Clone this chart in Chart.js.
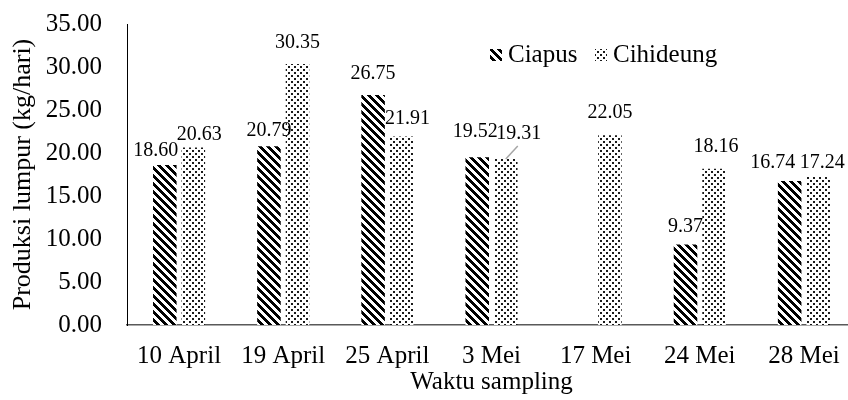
<!DOCTYPE html>
<html>
<head>
<meta charset="utf-8">
<script src="https://cdn.jsdelivr.net/npm/chart.js@4/dist/chart.umd.min.js"></script>
<style>
  html, body { margin: 0; padding: 0; background: #fff; overflow: hidden; }
  #wrap { width: 848px; height: 400px; overflow: hidden; }
  #c { display: block; }
</style>
</head>
<body>
<div id="wrap"><canvas id="c" width="856" height="400"></canvas></div>
<script>
// Sludge production per sampling date (kg/day)
const categories = ['10 April', '19 April', '25 April', '3 Mei', '17 Mei', '24 Mei', '28 Mei'];
const ciapus     = [18.60, 20.79, 26.75, 19.52, null, 9.37, 16.74];
const cihideung  = [20.63, 30.35, 21.91, 19.31, 22.05, 18.16, 17.24];
const seriesNames = ['Ciapus', 'Cihideung'];
const yMin = 0, yMax = 35, yStep = 5;

const SERIF = "'Liberation Serif', 'Times New Roman', serif";

// Diagonal hatch ("\" stripes)
function stripePattern() {
  const n = 8;
  const cv = document.createElement('canvas');
  cv.width = n; cv.height = n;
  const cx = cv.getContext('2d');
  const img = cx.createImageData(n, n);
  for (let y = 0; y < n; y++) {
    for (let x = 0; x < n; x++) {
      const d = ((x - y) % n + n) % n;
      const v = d < 4 ? 0 : 255;
      const k = (y * n + x) * 4;
      img.data[k] = v; img.data[k + 1] = v; img.data[k + 2] = v; img.data[k + 3] = 255;
    }
  }
  cx.putImageData(img, 0, 0);
  return cx.createPattern(cv, 'repeat');
}

// Staggered dot screen
function dotPattern() {
  const n = 6;
  const cv = document.createElement('canvas');
  cv.width = n; cv.height = n;
  const cx = cv.getContext('2d');
  cx.fillStyle = '#fff';
  cx.fillRect(0, 0, n, n);
  cx.fillStyle = '#1a1a1a';
  cx.fillRect(0, 0, 2, 2);
  cx.fillRect(3, 3, 2, 2);
  return cx.createPattern(cv, 'repeat');
}

const fills = [stripePattern(), dotPattern()];

// Value labels: vertical lift above bar top and horizontal nudge, per series
const labelLayout = {
  lift:  [[14, 15, 21, 25, 0, 18, 18], [13, 21, 18, 25, 23, 22, 14]],
  shift: [[-9, 0, 0, -2, 0, 0, -17],   [6, 0, 6, 13, 0, 2, 4]],
  leader: [[false, false, false, false, false, false, false],
           [false, false, false, true, false, false, false]]
};

const valueLabels = {
  id: 'valueLabels',
  afterDatasetsDraw(chart) {
    const ctx = chart.ctx;
    ctx.save();
    ctx.font = '20px ' + SERIF;
    ctx.fillStyle = '#000';
    ctx.textAlign = 'center';
    ctx.textBaseline = 'middle';
    chart.data.datasets.forEach((ds, i) => {
      const meta = chart.getDatasetMeta(i);
      meta.data.forEach((bar, j) => {
        const v = ds.data[j];
        if (v === null || v === undefined) return;
        const tx = bar.x + labelLayout.shift[i][j];
        const ty = bar.y - labelLayout.lift[i][j];
        if (labelLayout.leader[i][j]) {
          ctx.save();
          ctx.strokeStyle = '#a6a6a6';
          ctx.lineWidth = 1.5;
          ctx.beginPath();
          ctx.moveTo(bar.x, bar.y);
          ctx.lineTo(tx - 1, ty + 12);
          ctx.stroke();
          ctx.restore();
        }
        ctx.fillText(v.toFixed(2), tx, ty);
      });
    });
    ctx.restore();
  }
};

// Legend drawn inside the plot area
const insideLegend = {
  id: 'insideLegend',
  afterDraw(chart) {
    const ctx = chart.ctx;
    const items = [{ x: 490, tx: 508 }, { x: 595, tx: 613 }];
    ctx.save();
    ctx.font = '25px ' + SERIF;
    ctx.textAlign = 'left';
    ctx.textBaseline = 'alphabetic';
    chart.data.datasets.forEach((ds, i) => {
      const it = items[i];
      ctx.fillStyle = ds.backgroundColor;
      ctx.fillRect(it.x, 49, 12, 12);
      ctx.fillStyle = '#000';
      ctx.fillText(ds.label, it.tx, 62);
    });
    ctx.restore();
  }
};

const tickFont = { family: SERIF, size: 25 };
const titleFont = { family: SERIF, size: 26 };

new Chart(document.getElementById('c'), {
  type: 'bar',
  data: {
    labels: categories,
    datasets: [
      { label: seriesNames[0], data: ciapus, backgroundColor: fills[0], borderWidth: 0,
        categoryPercentage: 0.548, barPercentage: 0.825 },
      { label: seriesNames[1], data: cihideung, backgroundColor: fills[1], borderWidth: 0,
        categoryPercentage: 0.548, barPercentage: 0.825 }
    ]
  },
  options: {
    responsive: false,
    animation: false,
    devicePixelRatio: 1,
    layout: { padding: { left: 0, right: 0, top: 24, bottom: 0 } },
    plugins: { legend: { display: false }, tooltip: { enabled: false } },
    scales: {
      x: {
        grid: { display: false, drawTicks: false, tickLength: 0 },
        border: { display: true, color: '#595959', width: 1.5 },
        ticks: { font: tickFont, color: '#000', padding: 16, maxRotation: 0, autoSkip: false },
        title: { display: true, text: 'Waktu sampling', font: tickFont, color: '#000',
                 padding: { top: 0, bottom: 3 } },
        afterFit(s) { s.height = 75; s.paddingLeft = 0; s.paddingRight = 0; }
      },
      y: {
        min: yMin, max: yMax,
        grid: { display: false, drawTicks: false, tickLength: 0 },
        border: { display: true, color: '#000', width: 1 },
        ticks: { stepSize: yStep, font: tickFont, color: '#000', padding: 25,
                 callback: v => Number(v).toFixed(2) },
        title: { display: true, text: 'Produksi lumpur (kg/hari)', font: titleFont, color: '#000',
                 padding: { top: 8, bottom: 0 } },
        afterFit(s) { s.width = 127; s.paddingTop = 0; s.paddingBottom = 0; }
      }
    }
  },
  plugins: [valueLabels, insideLegend]
});
</script>
</body>
</html>
